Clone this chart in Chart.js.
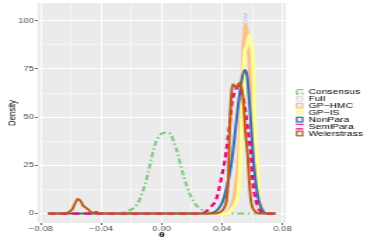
<!DOCTYPE html>
<html>
<head>
<meta charset="utf-8">
<script src="https://cdn.jsdelivr.net/npm/chart.js@4.4.1/dist/chart.umd.min.js"></script>
<style>
  html, body { margin: 0; padding: 0; background: #fff; }
  /* the reference is a horizontally stretched figure, so the canvas is too */
  #densityChart { display: block; width: 374px !important; height: 242px !important; }
</style>
</head>
<body>
<canvas id="densityChart" width="267" height="242" style="width:374px;height:242px"></canvas>
<script>
const seriesNames = ['Consensus', 'Full', 'GP\u2212HMC', 'GP\u2212IS', 'NonPara', 'SemiPara', 'Weierstrass'];

const consensusX = [-0.075, -0.030, -0.0258, -0.018, -0.0147, -0.0114, -0.0093, -0.0070, -0.0048, -0.0020, 0.0007, 0.0040, 0.0062, 0.0084, 0.0106, 0.0128, 0.0150, 0.0172, 0.0194, 0.0227, 0.0260, 0.0294, 0.034, 0.0755];
const consensusY = [0, 0, 0.5, 3.3, 7.1, 14.0, 20.0, 27.8, 34.7, 39.9, 41.7, 42.0, 40.8, 36.5, 31.3, 24.4, 18.3, 13.1, 8.8, 4.5, 2.3, 1.0, 0, 0];

const fullX = [-0.075, 0.040, 0.043, 0.045, 0.047, 0.0485, 0.050, 0.051, 0.052, 0.053, 0.054, 0.055, 0.0556, 0.0563, 0.057, 0.058, 0.059, 0.060, 0.061, 0.062, 0.063, 0.064, 0.066, 0.068, 0.0755];
const fullY = [0, 0, 0.5, 2, 5, 9, 15, 25, 42, 70, 92, 102, 104, 100, 92, 78, 60, 40, 23, 12, 5, 2, 0.5, 0, 0];

const gpHmcX = [-0.075, 0.040, 0.043, 0.045, 0.047, 0.049, 0.051, 0.053, 0.054, 0.055, 0.0558, 0.057, 0.058, 0.059, 0.060, 0.061, 0.0625, 0.064, 0.0655, 0.067, 0.069, 0.0755];
const gpHmcY = [0, 0, 0.5, 2, 6, 14, 30, 62, 84, 95, 98, 91, 80, 66, 52, 40, 26, 13, 5, 1.5, 0, 0];

const gpIsX = [-0.075, 0.042, 0.044, 0.046, 0.048, 0.050, 0.051, 0.052, 0.053, 0.054, 0.055, 0.056, 0.057, 0.058, 0.059, 0.060, 0.061, 0.0615, 0.062, 0.063, 0.064, 0.065, 0.066, 0.067, 0.069, 0.0755];
const gpIsY = [0, 0, 0.5, 2, 4, 7, 12, 25, 45, 68, 84, 86, 89, 92.5, 89, 84, 70, 50, 42, 30, 16, 7, 2.5, 0.5, 0, 0];

const nonParaX = [-0.075, 0.030, 0.034, 0.037, 0.040, 0.0426, 0.0459, 0.0481, 0.0503, 0.052, 0.0535, 0.055, 0.0565, 0.058, 0.0595, 0.061, 0.0635, 0.065, 0.0665, 0.068, 0.070, 0.0755];
const nonParaY = [0, 0, 0.5, 2, 5.5, 12, 24.4, 38, 53.7, 64, 71, 74.5, 72, 59, 42, 26, 10, 5, 2, 0.5, 0, 0];

const semiParaX = [-0.075, 0.024, 0.028, 0.0327, 0.036, 0.0393, 0.0426, 0.0448, 0.0469, 0.049, 0.0505, 0.052, 0.054, 0.0555, 0.0569, 0.058, 0.0591, 0.0602, 0.0624, 0.064, 0.0657, 0.068, 0.0755];
const semiParaY = [0, 0, 0.5, 3.6, 7.1, 17.5, 31.3, 45, 58.9, 64, 66, 65, 60, 53, 45, 38, 31, 17.5, 7, 3, 1, 0, 0];

const weierX = [-0.075, -0.066, -0.063, -0.061, -0.059, -0.0575, -0.0555, -0.0535, -0.052, -0.0505, -0.0485, -0.047, -0.045, -0.0435, -0.042, -0.040, 0.035, 0.038, 0.0405, 0.042, 0.043, 0.0443, 0.0448, 0.0455, 0.0462, 0.047, 0.048, 0.049, 0.050, 0.051, 0.052, 0.053, 0.054, 0.0555, 0.057, 0.058, 0.059, 0.060, 0.0615, 0.063, 0.065, 0.0755];
const weierY = [0, 0, 0.3, 1, 2.5, 5, 7.5, 6.3, 4, 3.2, 2, 0.8, 0.5, 0.9, 0.4, 0, 0, 0.5, 1.8, 4, 7, 21, 38, 52, 62, 67, 66.5, 65.5, 66, 67.3, 67.8, 65, 58.9, 42, 30, 17, 7.5, 3.5, 1.5, 0.5, 0, 0];

const xTicks = [-0.08, -0.06, -0.04, -0.02, 0, 0.02, 0.04, 0.06, 0.08];
const xTickLabels = ['\u22120.08', '', '\u22120.04', '', '0.00', '', '0.04', '', '0.08'];
const yTicks = [0, 12.5, 25, 37.5, 50, 62.5, 75, 87.5, 100];
const yTickLabels = ['0', '', '25', '', '50', '', '75', '', '100'];

const toPoints = (xs, ys) => xs.map((x, i) => ({ x: x, y: ys[i] }));

Chart.defaults.font.family = '"Liberation Sans", Arial, sans-serif';

const panelBackground = {
  id: 'panelBackground',
  beforeDraw(chart) {
    const { ctx, chartArea: a } = chart;
    ctx.save();
    ctx.fillStyle = '#EBEBEB';
    ctx.fillRect(a.left, a.top, a.right - a.left, a.bottom - a.top);
    ctx.restore();
  }
};

// ggplot style legend keys (outlined boxes) on the right
const sideLegend = {
  id: 'sideLegend',
  afterDraw(chart) {
    const ctx = chart.ctx;
    ctx.save();
    ctx.font = '7.4px "Liberation Sans", Arial, sans-serif';
    ctx.textBaseline = 'middle';
    chart.data.datasets.forEach((ds, i) => {
      const cy = 91.8 + i * 6.95;
      ctx.fillStyle = '#F2F2F2';
      ctx.fillRect(211.2, cy - 2.85, 5.4, 5.7);
      ctx.strokeStyle = ds.borderColor;
      ctx.lineWidth = 1.2;
      ctx.setLineDash(ds.borderDash || []);
      ctx.strokeRect(211.8, cy - 2.3, 4.2, 4.6);
      ctx.setLineDash([]);
      ctx.fillStyle = '#000';
      ctx.fillText(ds.label, 220.2, cy + 0.3);
    });
    ctx.restore();
  }
};

const ctx = document.getElementById('densityChart').getContext('2d');
new Chart(ctx, {
  type: 'line',
  data: {
    datasets: [
      { label: seriesNames[0], data: toPoints(consensusX, consensusY), borderColor: '#7FC97F', borderWidth: 2, borderDash: [5, 2.5, 1.5, 2.5], order: 6 },
      { label: seriesNames[1], data: toPoints(fullX, fullY), borderColor: '#BEAED4', borderWidth: 1.4, borderDash: [1, 2], order: 5 },
      { label: seriesNames[2], data: toPoints(gpHmcX, gpHmcY), borderColor: '#FDC086', borderWidth: 2.6, order: 4 },
      { label: seriesNames[3], data: toPoints(gpIsX, gpIsY), borderColor: '#FFFF99', borderWidth: 2.8, order: 3 },
      { label: seriesNames[4], data: toPoints(nonParaX, nonParaY), borderColor: '#386CB0', borderWidth: 2, order: 2 },
      { label: seriesNames[5], data: toPoints(semiParaX, semiParaY), borderColor: '#F0027F', borderWidth: 2.2, borderDash: [5, 3.5], order: 1 },
      { label: seriesNames[6], data: toPoints(weierX, weierY), borderColor: '#BF5B17', borderWidth: 2, order: 0 }
    ]
  },
  options: {
    responsive: false,
    animation: false,
    devicePixelRatio: 1,
    layout: { padding: { left: 0, right: 62.9, top: 3, bottom: 0 } },
    elements: {
      point: { radius: 0 },
      line: { cubicInterpolationMode: 'monotone', borderJoinStyle: 'round', fill: false }
    },
    plugins: {
      legend: { display: false },
      tooltip: { enabled: false }
    },
    scales: {
      x: {
        type: 'linear',
        min: -0.0821,
        max: 0.0823,
        afterBuildTicks: scale => { scale.ticks = xTicks.map(v => ({ value: v })); },
        afterFit: scale => { scale.height = 19; scale.paddingLeft = 0; scale.paddingRight = 0; },
        border: { display: false },
        grid: {
          color: '#FFFFFF',
          lineWidth: c => (xTickLabels[c.index] ? 1 : 0.5),
          tickColor: c => (xTickLabels[c.index] ? '#333333' : 'rgba(0,0,0,0)'),
          tickLength: 2,
          tickWidth: 0.8
        },
        ticks: {
          autoSkip: false,
          maxRotation: 0,
          padding: 0,
          color: '#4D4D4D',
          font: { size: 6.8 },
          callback: (v, i) => xTickLabels[i]
        },
        title: {
          display: true,
          text: '\u03B8',
          color: '#000',
          font: { size: 8, weight: 'bold' },
          padding: { top: 0, bottom: 2.2 }
        }
      },
      y: {
        type: 'linear',
        min: -4.9,
        max: 109.2,
        afterBuildTicks: scale => { scale.ticks = yTicks.map(v => ({ value: v })); },
        afterFit: scale => { scale.width = 26.9; scale.paddingTop = 0; scale.paddingBottom = 0; },
        border: { display: false },
        grid: {
          color: '#FFFFFF',
          lineWidth: c => (yTickLabels[c.index] ? 1 : 0.5),
          tickColor: c => (yTickLabels[c.index] ? '#333333' : 'rgba(0,0,0,0)'),
          tickLength: 2,
          tickWidth: 0.8
        },
        ticks: {
          autoSkip: false,
          padding: 0.6,
          color: '#4D4D4D',
          font: { size: 6.8 },
          callback: (v, i) => yTickLabels[i]
        },
        title: {
          display: true,
          text: 'Density',
          color: '#000',
          font: { size: 7.8 },
          padding: { top: 3.9, bottom: 0 }
        }
      }
    }
  },
  plugins: [panelBackground, sideLegend]
});
</script>
</body>
</html>
